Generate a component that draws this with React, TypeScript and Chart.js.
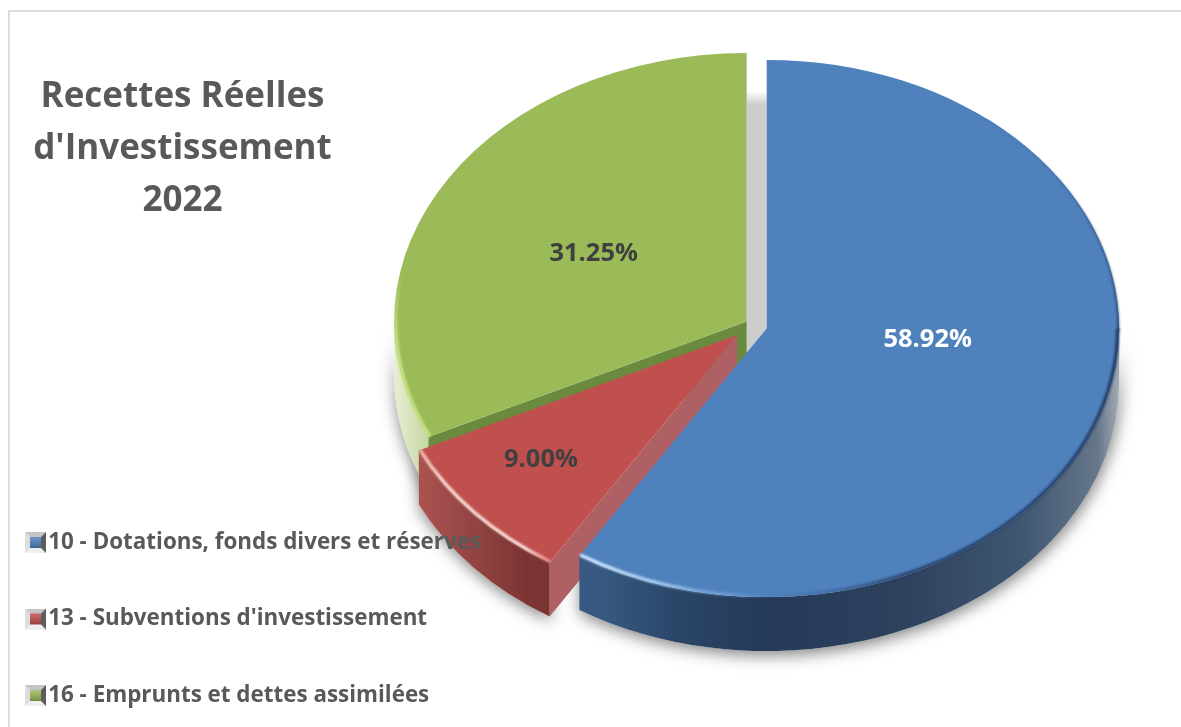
import React, { useEffect, useRef } from "react";
import { Chart, registerables } from "chart.js";

Chart.register(...registerables);

const categories = [
  "10 - Dotations, fonds divers et réserves",
  "13 - Subventions d'investissement",
  "16 - Emprunts et dettes assimilées",
];
const shares = [58.92, 9.0, 31.25];
const titleLines = ["Recettes Réelles", "d'Investissement", "2022"];
const sliceColors = ["#4f81bd", "#c0504d", "#9bbb59"];
const percentColors = ["#ffffff", "#404040", "#404040"];

// 3D look of the pie
const TILT = 0.762;
const DEPTH = 54;
const RADIUS = 352.5;
const CX = 746.7;
const CY = 321.5;
const explode = [[20, 7], [-9.7, 13.5], [0, 0]];
const percentShift = [[161, 11], [-196, 125], [-153, -68]];
const FONT = "'Open Sans'";

function stops(g: CanvasGradient, list: [number, string][]) {
  list.forEach(([p, c]) => g.addColorStop(p, c));
  return g;
}

function marker(color: string) {
  const c = document.createElement("canvas");
  c.width = 21;
  c.height = 21;
  const x = c.getContext("2d")!;
  const poly = (pts: number[][], fill: string | CanvasGradient) => {
    x.beginPath();
    pts.forEach(([a, b], i) => (i ? x.lineTo(a, b) : x.moveTo(a, b)));
    x.closePath();
    x.fillStyle = fill;
    x.fill();
  };
  poly([[0, 0], [21, 0], [16, 5], [5, 5]], "#c4c4c4");
  poly([[0, 21], [21, 21], [16, 16], [5, 16]], "#efefef");
  poly([[0, 0], [5, 5], [5, 16], [0, 21]], "#dcdcdc");
  poly([[21, 0], [16, 5], [16, 16], [21, 21]], "#5c5c5c");
  x.fillStyle = color;
  x.fillRect(5, 5, 11, 11);
  const g = x.createLinearGradient(0, 5, 0, 16);
  g.addColorStop(0, "rgba(255,255,255,0.15)");
  g.addColorStop(1, "rgba(0,0,0,0.25)");
  x.fillStyle = g;
  x.fillRect(5, 5, 11, 11);
  return c;
}

const pie3d = {
  id: "pie3d",
  beforeLayout(chart: any) {
    const lg = chart.legend;
    if (lg) lg._layers = () => [{ z: 1, draw: (a: any) => lg.draw(a) }];
  },
  afterLayout(chart: any) {
    const half = 420;
    chart.chartArea = {
      left: CX - half, right: CX + half, top: CY - half, bottom: CY + half,
      width: half * 2, height: half * 2,
    };
    const t = chart.titleBlock;
    t.left = 0; t.right = 365; t.width = 365; t.top = 71.5; t.bottom = 228; t.height = 156.5;
    const l = chart.legend;
    const pad = l.options.labels.padding;
    const half2 = l.options.labels.font.size / 2;
    l.left = 34 - pad; l.right = 560; l.width = 600;
    l.top = 542.5 - half2 - pad; l.bottom = 2000; l.height = 2000 - l.top;
  },
  afterDatasetsUpdate(chart: any) {
    // each slice takes its printed share of the full turn, the last one closes the pie
    let angle = -Math.PI / 2;
    const arcs = chart.getDatasetMeta(0).data;
    arcs.forEach((arc: any, i: number) => {
      arc.x += explode[i][0];
      arc.y += explode[i][1] / TILT;
      const end = i === arcs.length - 1 ? Math.PI * 1.5 : angle + (Math.PI * 2 * shares[i]) / 100;
      arc.startAngle = angle;
      arc.endAngle = end;
      arc.circumference = end - angle;
      angle = end;
    });
  },
  beforeDraw(chart: any) {
    const ctx = chart.ctx;
    ctx.save();
    ctx.fillStyle = "#ffffff";
    ctx.fillRect(0, 0, chart.width, chart.height);
    ctx.fillStyle = "#dcdcdc";
    ctx.fillRect(8, 10, chart.width - 8, 2);
    ctx.fillRect(8, 10, 2, chart.height - 10);
    ctx.restore();
  },
  beforeDatasetDraw() {
    return false;
  },
  beforeDatasetsDraw(chart: any) {
    const ctx = chart.ctx as CanvasRenderingContext2D;
    const arcs = chart.getDatasetMeta(0).data;
    const geo = arcs.map((arc: any) => ({
      arc,
      ax: arc.x,
      ay: CY + TILT * (arc.y - CY),
      r: arc.outerRadius,
      s: arc.startAngle,
      e: arc.endAngle,
    }));
    const [blue, red, green] = geo;

    const wallPath = (g: any) => {
      const a = Math.max(g.s, 0);
      const b = Math.min(g.e, Math.PI);
      ctx.beginPath();
      ctx.ellipse(g.ax, g.ay, g.r, g.r * TILT, 0, a, b);
      ctx.ellipse(g.ax, g.ay + DEPTH, g.r, g.r * TILT, 0, b, a, true);
      ctx.closePath();
    };
    const facePath = (g: any, t: number) => {
      const px = g.ax + g.r * Math.cos(t);
      const py = g.ay + g.r * TILT * Math.sin(t);
      ctx.beginPath();
      ctx.moveTo(g.ax, g.ay);
      ctx.lineTo(px, py);
      ctx.lineTo(px, py + DEPTH);
      ctx.lineTo(g.ax, g.ay + DEPTH);
      ctx.closePath();
    };
    const xGrad = (g: any, list: [number, string][]) =>
      stops(ctx.createLinearGradient(g.ax - g.r, 0, g.ax + g.r, 0), list);

    // soft drop shadow
    ctx.save();
    ctx.shadowColor = "rgba(0,0,0,0.5)";
    ctx.shadowBlur = 16;
    ctx.shadowOffsetY = 4;
    ctx.shadowOffsetX = 1;
    ctx.fillStyle = "#ffffff";
    [blue, red, green].forEach((g: any) => {
      wallPath(g);
      ctx.fill();
    });
    ctx.restore();

    // grey shadow showing through the gap between green and blue
    const gapTop = blue.ay - blue.r * TILT * 0.885;
    const gapG = ctx.createLinearGradient(0, gapTop, 0, gapTop + 14);
    gapG.addColorStop(0, "rgba(205,205,205,0)");
    gapG.addColorStop(1, "#cdcdcd");
    ctx.fillStyle = gapG;
    ctx.fillRect(green.ax, gapTop, blue.ax - green.ax, blue.ay - gapTop + 30);

    const drawTop = (g: any) => {
      ctx.save();
      ctx.translate(0, CY);
      ctx.scale(1, TILT);
      ctx.translate(0, -CY);
      g.arc.draw(ctx);
      ctx.restore();
    };
    const rim = (g: any, a: number, b: number, stroke: any, w: number, inset = 1.5) => {
      ctx.save();
      ctx.filter = "blur(0.9px)";
      ctx.beginPath();
      ctx.ellipse(g.ax, g.ay, g.r - inset, (g.r - inset) * TILT, 0, a, b);
      ctx.strokeStyle = stroke;
      ctx.lineWidth = w;
      ctx.stroke();
      ctx.restore();
    };

    // green slice
    wallPath(green);
    ctx.fillStyle = stops(ctx.createLinearGradient(green.ax - green.r, 0, green.ax - green.r + 45, 0), [
      [0, "rgba(222,232,196,0.75)"],
      [1, "#b7cc8b"],
    ]);
    ctx.fill();
    facePath(green, green.s);
    ctx.fillStyle = "#6a8a3d";
    ctx.fill();
    drawTop(green);
    const gRim = ctx.createLinearGradient(0, green.ay - 50, 0, green.ay + 20);
    gRim.addColorStop(0, "rgba(205,232,140,0)");
    gRim.addColorStop(1, "rgba(205,232,140,1)");
    rim(green, green.s, Math.PI + 0.3, gRim, 3);

    // red slice
    facePath(red, red.s);
    ctx.fillStyle = "#ae6064";
    ctx.fill();
    wallPath(red);
    ctx.fillStyle = xGrad(red, [
      [0, "#bb5d5b"],
      [0.05, "#ab5250"],
      [0.14, "#8e4240"],
      [0.2, "#7c3432"],
    ]);
    ctx.fill();
    drawTop(red);
    rim(red, red.s, red.e, stops(ctx.createLinearGradient(red.ax - red.r, 0, red.ax - 187, 0), [
      [0, "#e58b87"],
      [0.35, "#fbe4e0"],
      [0.85, "#fff0ec"],
      [1, "#e58b87"],
    ]), 3);

    // blue slice
    wallPath(blue);
    ctx.fillStyle = xGrad(blue, [
      [0.26, "#385a82"],
      [0.37, "#2b4669"],
      [0.5, "#243a58"],
      [0.7, "#2e425e"],
      [0.86, "#3f5670"],
      [0.97, "#66778a"],
      [1, "#a3abb4"],
    ]);
    ctx.fill();
    drawTop(blue);
    const bRim = xGrad(blue, [
      [0.26, "rgba(205,232,255,1)"],
      [0.36, "rgba(165,205,245,0.9)"],
      [0.48, "rgba(120,170,225,0.25)"],
      [0.55, "rgba(40,70,110,0.15)"],
      [0.7, "rgba(28,50,85,0.75)"],
      [1, "rgba(28,50,85,0.85)"],
    ]);
    rim(blue, 0, blue.e, bRim, 3.5);
    const bTop = ctx.createLinearGradient(0, blue.ay - 170, 0, blue.ay);
    bTop.addColorStop(0, "rgba(28,50,85,0.08)");
    bTop.addColorStop(1, "rgba(28,50,85,0.75)");
    rim(blue, -0.9, 0.01, bTop, 2, 0.8);
  },
  afterDatasetsDraw(chart: any) {
    const ctx = chart.ctx as CanvasRenderingContext2D;
    const arcs = chart.getDatasetMeta(0).data;
    ctx.save();
    ctx.font = `bold 25.5px ${FONT}`;
    ctx.textAlign = "center";
    ctx.textBaseline = "middle";
    arcs.forEach((arc: any, i: number) => {
      ctx.fillStyle = percentColors[i];
      ctx.fillText(
        shares[i].toFixed(2) + "%",
        arc.x + percentShift[i][0],
        CY + TILT * (arc.y - CY) + percentShift[i][1]
      );
    });
    ctx.restore();
  },
};

export default function App() {
  const ref = useRef<HTMLCanvasElement | null>(null);
  useEffect(() => {
    document.body.style.margin = "0";
    const markers = sliceColors.map(marker);
    const chart = new Chart(ref.current!, {
      type: "pie",
      data: {
        labels: categories,
        datasets: [
          {
            data: shares,
            backgroundColor: sliceColors,
            borderWidth: 0,
            radius: RADIUS,
            clip: false,
          } as any,
        ],
      },
      options: {
        responsive: false,
        animation: false,
        events: [],
        plugins: {
          tooltip: { enabled: false },
          title: {
            display: true,
            text: titleLines,
            color: "#595959",
            padding: 0,
            align: "center",
            font: { family: FONT, weight: "bold", size: 35, lineHeight: 1.486 },
          },
          legend: {
            display: true,
            position: "left",
            align: "start",
            labels: {
              color: "#595959",
              font: { family: FONT, weight: "bold", size: 22.4 },
              padding: 54.1,
              boxWidth: 3,
              boxHeight: 3,
              usePointStyle: true,
              generateLabels: (c: any) =>
                Chart.overrides.pie.plugins.legend.labels
                  .generateLabels(c)
                  .map((it: any, i: number) => ({ ...it, pointStyle: markers[i] })),
            },
          },
        },
      } as any,
      plugins: [pie3d as any],
    });
    return () => chart.destroy();
  }, []);
  return <canvas ref={ref} width={1181} height={727} style={{ display: "block" }} />;
}
